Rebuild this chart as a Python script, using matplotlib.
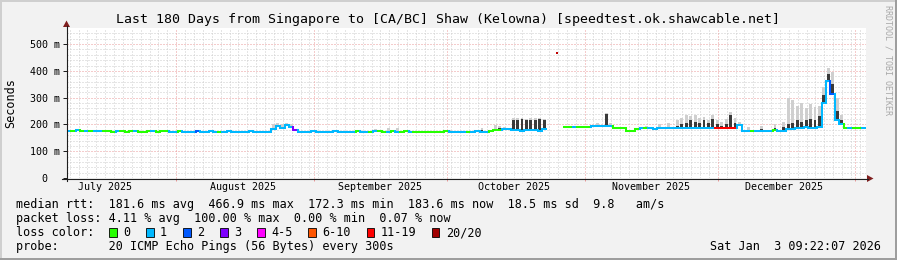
import math
from datetime import datetime

import numpy as np
import matplotlib
matplotlib.use("Agg")
import matplotlib.pyplot as plt
import matplotlib.dates as mdates
from matplotlib.collections import LineCollection
from matplotlib.patches import Rectangle, Polygon
from matplotlib.lines import Line2D

W, H = 897, 260
MONO = "DejaVu Sans Mono"

# --- data ---
start = datetime(2025, 7, 7, 9, 22, 7)
end = datetime(2026, 1, 3, 9, 22, 7)
nan = float("nan")

# median rtt per day (ms), day 0 = start
median_ms = [
    177, 177, 178, 177, 177, 176, 177, 176, 174, 174,
    173, 174, 174, 173, 174, 174, 173, 173, 174, 174,
    173, 174, 174, 173, 173, 174, 173, 173, 173, 174,
    173, 173, 174, 173, 173, 173, 174, 173, 173, 173,
    173, 174, 173, 173, 173, 173, 182, 194, 186, 197,
    190, 178, 173, 173, 173, 174, 173, 173, 173, 173,
    174, 173, 173, 173, 173, 174, 173, 173, 173, 174,
    175, 173, 173, 176, 173, 173, 174, 173, 173, 173,
    173, 173, 173, 173, 173, 174, 173, 173, 173, 173,
    173, 173, 174, 173, 173, 176, 178, 181, 182, 184,
    178, 180, 177, 181, 178, 180, 177, 182, nan, nan,
    nan, nan, 190, 191, 190, 190, 191, 190, 194, 195,
    194, 196, 194, 186, 185, 185, 177, 177, 184, 185,
    185, 185, 184, 185, 185, 185, 185, 186, 185, 186,
    186, 185, 186, 186, 186, 186, 186, 186, 186, 187,
    186, 197, 177, 177, 177, 176, 177, 177, 177, 178,
    177, 177, 182, 182, 188, 188, 189, 188, 188, 190,
    280, 362, 312, 215, 200, 186, 186, 186, 185, 186,
]

# loss class per day (index into loss_labels)
loss_codes = (
    "10101011" "000100010001000" "11011121111011"
    "11111111111111" "3" "11111111111"
    "1101101001010010000" "0000111101111000" "11"
    "11111111" "0000" "001000" "11111" "00000"
    "010111111111111" "111" "66666" "11101111011"
    "11111111" "1121" "101001"
)

# smoke: day -> (top of smoke, top of dark core), ms
smoke = {
    25: (180, 176),
    46: (200, 188), 47: (206, 198), 48: (200, 192), 49: (207, 200), 50: (203, 195),
    69: (183, 178), 72: (186, 176), 74: (187, 177),
    86: (180, 175), 93: (188, 178), 96: (198, 184), 97: (195, 186), 98: (190, 185),
    100: (224, 218), 101: (223, 217), 102: (225, 219), 103: (222, 216),
    104: (224, 218), 105: (223, 217), 106: (225, 219), 107: (222, 216),
    119: (205, 198), 121: (243, 238), 122: (205, 198),
    130: (195, 188), 133: (200, 190), 135: (205, 192), 137: (215, 195),
    138: (225, 200), 139: (236, 205), 140: (230, 215), 141: (236, 210),
    142: (225, 205), 143: (228, 215), 144: (215, 205), 145: (236, 220),
    146: (215, 200), 147: (210, 195), 148: (220, 200), 149: (248, 235),
    150: (225, 205), 151: (210, 200),
    153: (190, 180), 156: (195, 182), 159: (200, 185), 161: (210, 190),
    162: (300, 200), 163: (290, 205), 164: (270, 215), 165: (280, 210),
    166: (260, 215), 167: (275, 220), 168: (265, 215), 169: (270, 230),
    170: (340, 310), 171: (412, 390), 172: (395, 350), 173: (300, 250),
    174: (236, 215),
}
max_day, max_ms = 110.4, 466.9

loss_labels = ["0", "1", "2", "3", "4-5", "6-10", "11-19", "20/20"]
loss_colors = ["#26ff00", "#00b8ff", "#0059ff", "#7e00ff",
               "#ff00ff", "#ff5500", "#ff0000", "#a10000"]

y_ticks = [0, 100, 200, 300, 400, 500]
y_tick_labels = ["0  ", "100 m", "200 m", "300 m", "400 m", "500 m"]
month_labels = ["July 2025", "August 2025", "September 2025",
                "October 2025", "November 2025", "December 2025"]
month_label_dates = [datetime(2025, m, 16) for m in range(7, 13)]
month_starts = [datetime(2025, m, 1) for m in range(8, 13)] + [datetime(2026, 1, 1)]

title = "Last 180 Days from Singapore to [CA/BC] Shaw (Kelowna) [speedtest.ok.shawcable.net]"
rtt_line = "median rtt:  181.6 ms avg  466.9 ms max  172.3 ms min  183.6 ms now  18.5 ms sd  9.8   am/s"
loss_line = "packet loss: 4.11 % avg  100.00 % max  0.00 % min  0.07 % now"
probe_line = "probe:       20 ICMP Echo Pings (56 Bytes) every 300s"
stamp = "Sat Jan  3 09:22:07 2026"

# rrdtool-like colours
BACK = "#f2f2f2"
GRID = "#cdcdcd"
MGRID = "#eb9a9a"
ARROW = "#801f1f"
AXIS = "#1f1f1f"

fig = plt.figure(figsize=(W / 100, H / 100), dpi=100, facecolor=BACK)
ax = fig.add_axes([67 / W, (H - 178) / H, 799 / W, 150 / H], facecolor="white")

x0 = mdates.date2num(start)
x1 = mdates.date2num(end)
ax.set_xlim(x0, x1)
ax.set_ylim(0, 560)
for s in ax.spines.values():
    s.set_visible(False)

# grid
dots = (0, (1, 2))
for y in range(20, 560, 20):
    c = MGRID if y % 100 == 0 else GRID
    ax.axhline(y, color=c, lw=0.72, ls=dots, zorder=0)
ms_nums = [mdates.date2num(d) for d in month_starts]
for xv in np.arange(math.ceil(x0), x1, 2):
    if min(abs(xv - m) for m in ms_nums) > 0.5:
        ax.axvline(xv, color=GRID, lw=0.72, ls=dots, zorder=0)
for m in ms_nums:
    ax.axvline(m, color=MGRID, lw=0.72, ls=dots, zorder=0)

# smoke
days = list(smoke)
base = [median_ms[d] for d in days]
tops = [smoke[d][0] for d in days]
core = [smoke[d][1] for d in days]
xs = [x0 + d + 0.5 for d in days]
ax.bar(xs, np.subtract(tops, core), bottom=core, width=0.65,
       color="#cfcfcf", lw=0, zorder=1)
ax.bar(xs, np.subtract(core, base), bottom=base, width=0.65,
       color="#3a3a3a", lw=0, zorder=1)

# median line coloured by loss
segs, cols = [], []
prev = None
for d, v in enumerate(median_ms):
    if np.isnan(v):
        prev = None
        continue
    c = loss_colors[int(loss_codes[d])]
    if prev is not None:
        segs.append([(x0 + d, prev), (x0 + d, v)])
        cols.append(c)
    segs.append([(x0 + d, v), (x0 + d + 1, v)])
    cols.append(c)
    prev = v
ax.add_collection(LineCollection(segs, colors=cols, linewidths=1.45,
                                 capstyle="projecting", zorder=2))
ax.plot([x0 + max_day], [max_ms], marker="s", ms=1.6, color="#c00000",
        mew=0, zorder=2)

# ticks and labels
ax.set_yticks(y_ticks, y_tick_labels, fontfamily=MONO, fontsize=7.2)
ax.tick_params(axis="y", length=2.9, width=0.72, color=AXIS, pad=2)
ax.set_xticks(ms_nums)
ax.tick_params(axis="x", length=2.2, width=0.72, color=MGRID, labelbottom=False)
for d, lab in zip(month_label_dates, month_labels):
    ax.text(mdates.date2num(d), -12.5 / 150, lab, transform=ax.get_xaxis_transform(),
            ha="center", va="baseline", fontfamily=MONO, fontsize=7.2)

# overlay in pixel coordinates for frame, arrows, legend
oa = fig.add_axes([0, 0, 1, 1], facecolor="none", zorder=5)
oa.set_xlim(0, W)
oa.set_ylim(H, 0)
oa.set_axis_off()

oa.add_patch(Rectangle((0, 0), W, 2, color="#cfcfcf", lw=0))
oa.add_patch(Rectangle((0, 0), 2, H, color="#cfcfcf", lw=0))
oa.add_patch(Rectangle((0, H - 2.5), W, 2.5, color="#9e9e9e", lw=0))
oa.add_patch(Rectangle((W - 2.5, 0), 2.5, H, color="#9e9e9e", lw=0))

oa.add_line(Line2D([66.5, 66.5], [181, 26], color=AXIS, lw=0.8))
oa.add_line(Line2D([62, 868], [178.5, 178.5], color=AXIS, lw=0.8))
oa.add_patch(Polygon([(63, 27), (70, 27), (66.5, 20.5)], color=ARROW, lw=0))
oa.add_patch(Polygon([(867, 175), (867, 182), (873.5, 178.5)], color=ARROW, lw=0))

oa.text(448, 23, title, ha="center", va="baseline", fontfamily=MONO, fontsize=9.5)
oa.text(888, 60, "RRDTOOL / TOBI OETIKER", rotation=-90, ha="center", va="center",
        fontfamily=MONO, fontsize=6, color="#a8a8a8")
oa.text(10.5, 103, "Seconds", rotation=90, ha="center", va="center",
        fontfamily=MONO, fontsize=8.5)

oa.text(16, 208.3, rtt_line, va="baseline", fontfamily=MONO, fontsize=8.5)
oa.text(16, 222.3, loss_line, va="baseline", fontfamily=MONO, fontsize=8.5)
oa.text(16, 236.3, "loss color:", va="baseline", fontfamily=MONO, fontsize=8.5)
bx = 109
for lab, col in zip(loss_labels, loss_colors):
    oa.add_patch(Rectangle((bx, 228.3), 7.5, 8.3, facecolor=col, edgecolor="black", lw=0.6))
    oa.text(bx + 14, 236.3, lab, va="baseline", fontfamily=MONO, fontsize=8.5)
    bx += 37 + (len(lab) - 1) * 7.1
oa.text(16, 250.3, probe_line, va="baseline", fontfamily=MONO, fontsize=8.5)
oa.text(880.5, 250.3, stamp, ha="right", va="baseline", fontfamily=MONO, fontsize=8.5)

fig.savefig("out.png", dpi=100, facecolor=BACK)
